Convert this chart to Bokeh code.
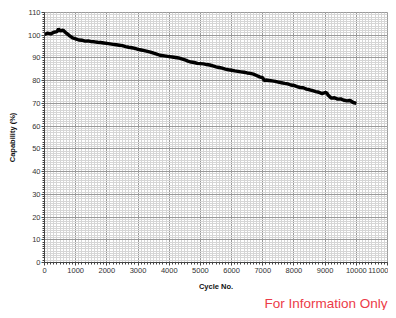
from bokeh.plotting import figure
from bokeh.models import Range1d, SingleIntervalTicker, Title
from bokeh.embed import file_html
from bokeh.resources import INLINE

cycles = [0, 100, 200, 300, 400, 450, 500, 600, 700, 800, 900,
          1000, 1100, 1200, 1300, 1400, 1500, 1600, 1700, 1800, 1900,
          2000, 2100, 2200, 2300, 2400, 2500, 2600, 2700, 2800, 2900,
          3000, 3100, 3200, 3300, 3400, 3500, 3600, 3700, 3800, 3900,
          4000, 4100, 4200, 4300, 4400, 4500, 4600, 4700, 4800, 4900,
          5000, 5100, 5200, 5300, 5400, 5500, 5600, 5700, 5800, 5900,
          6000, 6100, 6200, 6300, 6400, 6500, 6600, 6700, 6800, 6900,
          7000, 7050, 7100, 7200, 7300, 7400, 7500, 7600, 7700, 7800, 7900,
          8000, 8100, 8200, 8300, 8400, 8500, 8600, 8700, 8800, 8900,
          9000, 9050, 9100, 9200, 9300, 9400, 9500, 9600, 9700, 9800, 9900,
          10000]
capability = [100.3, 100.9, 100.6, 101.3, 101.6, 102.8, 101.9, 102.2, 100.9, 99.8, 98.8,
              98.4, 97.9, 97.8, 97.4, 97.5, 97.2, 97.1, 96.9, 96.8, 96.6,
              96.4, 96.2, 96.0, 95.8, 95.6, 95.4, 95.0, 94.7, 94.5, 94.2,
              93.8, 93.5, 93.2, 92.9, 92.6, 92.1, 91.7, 91.2, 91.0, 90.8,
              90.6, 90.4, 90.2, 90.0, 89.6, 89.2, 88.6, 88.2, 88.0, 87.6,
              87.5, 87.4, 87.1, 86.9, 86.5, 86.1, 85.8, 85.5, 85.1, 84.8,
              84.6, 84.3, 84.1, 83.9, 83.7, 83.4, 83.2, 82.9, 82.3, 81.7,
              81.2, 80.0, 80.3, 80.1, 79.9, 79.7, 79.4, 79.1, 78.8, 78.6, 78.1,
              77.9, 77.4, 77.0, 76.9, 76.3, 76.0, 75.6, 75.2, 74.9, 74.3,
              74.8, 74.6, 73.6, 72.3, 72.5, 71.9, 72.0, 71.4, 71.1, 71.3, 70.4,
              70.0]

x_label = "Cycle No."
y_label = "Capability (%)"
note = "For Information Only"

p = figure(width=388, height=310, output_backend="svg", toolbar_location=None,
           x_range=Range1d(0, 11000), y_range=Range1d(0, 110),
           min_border_left=44, min_border_right=1, min_border_top=12, min_border_bottom=20)
p.outline_line_color = "#999999"
p.background_fill_color = "white"

p.line(cycles, capability, line_color="black", line_width=3.4)

for ax, tick in ((p.xaxis, SingleIntervalTicker(interval=1000, num_minor_ticks=10)),
                 (p.yaxis, SingleIntervalTicker(interval=10, num_minor_ticks=10))):
    ax.ticker = tick
    ax.axis_line_color = "#444444"
    ax.major_tick_line_color = "#444444"
    ax.minor_tick_line_color = "#444444"
    ax.major_tick_in = 0
    ax.major_tick_out = 3
    ax.minor_tick_in = 0
    ax.minor_tick_out = 2
    ax.major_label_text_font = "Liberation Sans"
    ax.major_label_text_font_size = "7.5px"
    ax.major_label_text_color = "#333333"
    ax.axis_label_text_font = "Liberation Sans"
    ax.axis_label_text_font_size = "7.5px"
    ax.axis_label_text_font_style = "bold"
    ax.axis_label_text_color = "#111111"

p.xaxis.axis_label = x_label
p.yaxis.axis_label = y_label
p.xaxis.major_label_standoff = 2
p.yaxis.major_label_standoff = 1
p.xaxis.axis_label_standoff = 6
p.yaxis.axis_label_standoff = 8

p.xgrid.ticker = p.xaxis[0].ticker
p.ygrid.ticker = p.yaxis[0].ticker
for g in (p.xgrid, p.ygrid):
    g.grid_line_color = "#999999"
    g.grid_line_width = 1
    g.minor_grid_line_color = "#d6d6d6"
    g.minor_grid_line_width = 1

t = Title(text=note, align="right", text_font="Liberation Sans", text_font_size="13.5px",
          text_font_style="normal", text_color="#ec3b48", standoff=0, offset=0,
          text_line_height=0.75)
p.add_layout(t, "below")

open("out.html", "w").write(file_html(p, INLINE))
